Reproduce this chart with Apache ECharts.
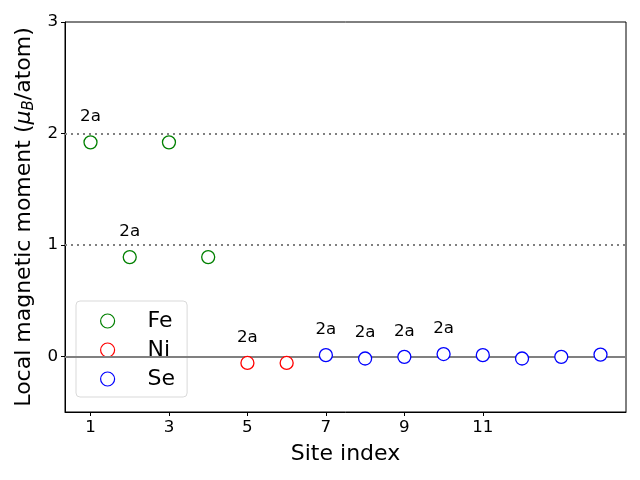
<!DOCTYPE html>
<html><head><meta charset="utf-8">
<script src="https://cdn.jsdelivr.net/npm/echarts@6/dist/echarts.min.js"></script>
<style>html,body{margin:0;padding:0;background:#fff}#c{width:640px;height:480px}</style>
</head><body><div id="c"></div>
<script>
const feSites = [1, 2, 3, 4];
const feValues = [1.92, 0.89, 1.92, 0.89];
const feLabels = ["2a", "2a", "", ""];
const niSites = [5, 6];
const niValues = [-0.06, -0.06];
const niLabels = ["2a", ""];
const seSites = [7, 8, 9, 10, 11, 12, 13, 14];
const seValues = [0.01, -0.02, -0.005, 0.02, 0.01, -0.02, -0.005, 0.015];
const seLabels = ["2a", "2a", "2a", "2a", "", "", "", ""];
const xTicks = [1, 3, 5, 7, 9, 11];
const yTicks = [0, 1, 2, 3];
const refLines = [1, 2];

const font = 'DejaVu Sans';
function mk(name, sites, vals, labels, color, withLines) {
  const s = {
    name: name, type: 'scatter', symbol: 'circle', symbolSize: 13,
    itemStyle: {color: '#ffffff', borderColor: color, borderWidth: 1.3, opacity: 1},
    data: sites.map((x, i) => ({
      value: [x, vals[i]],
      label: {show: labels[i] !== '', formatter: labels[i]}
    })),
    label: {position: 'top', distance: 10, color: '#000', fontFamily: font, fontSize: 16.7},
    emphasis: {disabled: true},
    z: 5
  };
  if (withLines) {
    s.markLine = {
      silent: true, symbol: 'none', label: {show: false},
      data: refLines.map(v => ({yAxis: v, lineStyle: {type: [2, 4], color: '#808080', width: 2}}))
        .concat([{yAxis: 0, lineStyle: {type: 'solid', color: '#808080', width: 2}}])
    };
  }
  return s;
}
const chart = echarts.init(document.getElementById('c'));
chart.setOption({
  animation: false,
  grid: {left: 65, right: 14, top: 22, bottom: 68, show: true, borderColor: '#000', borderWidth: 1, backgroundColor: 'transparent'},
  xAxis: {
    type: 'value', min: 0.35, max: 14.65,
    name: 'Site index', nameLocation: 'middle', nameGap: 31,
    nameTextStyle: {fontFamily: font, fontSize: 22, color: '#000'},
    axisLine: {show: true, onZero: false, lineStyle: {color: '#000'}},
    axisTick: {show: true, customValues: xTicks, length: 4, lineStyle: {color: '#000'}},
    axisLabel: {customValues: xTicks, fontFamily: font, fontSize: 16.7, color: '#000', margin: 7},
    splitLine: {show: false}
  },
  yAxis: {
    type: 'value', min: -0.5, max: 3,
    name: 'Local magnetic moment ({i|μ}{sub|B}/atom)', nameLocation: 'middle', nameGap: 27,
    nameTextStyle: {fontFamily: font, fontSize: 22, color: '#000',
      rich: {i: {fontFamily: font, fontSize: 22, fontStyle: 'italic', color: '#000'},
             sub: {fontFamily: font, fontSize: 15, fontStyle: 'italic', color: '#000', padding: [10, 0, 0, 0]}}},
    axisLine: {show: true, onZero: false, lineStyle: {color: '#000'}},
    axisTick: {show: true, customValues: yTicks, length: 4, lineStyle: {color: '#000'}},
    axisLabel: {customValues: yTicks, fontFamily: font, fontSize: 16.7, color: '#000', margin: 7},
    splitLine: {show: false}
  },
  legend: {
    orient: 'vertical', left: 76, top: 301, padding: [9, 12, 7, 24],
    backgroundColor: 'rgba(255,255,255,0.8)', borderColor: '#d9d9d9', borderWidth: 1, borderRadius: 4,
    itemWidth: 14, itemHeight: 14, itemGap: 7,
    textStyle: {fontFamily: font, fontSize: 22, color: '#000', padding: [0, 0, 0, 28]},
    data: [{name: 'Fe', icon: 'circle'}, {name: 'Ni', icon: 'circle'}, {name: 'Se', icon: 'circle'}],
    itemStyle: {color: 'transparent', borderWidth: 1.2}
  },
  series: [
    mk('Fe', feSites, feValues, feLabels, '#008000', true),
    mk('Ni', niSites, niValues, niLabels, '#ff0000', false),
    mk('Se', seSites, seValues, seLabels, '#0000ff', false)
  ]
});
</script></body></html>
